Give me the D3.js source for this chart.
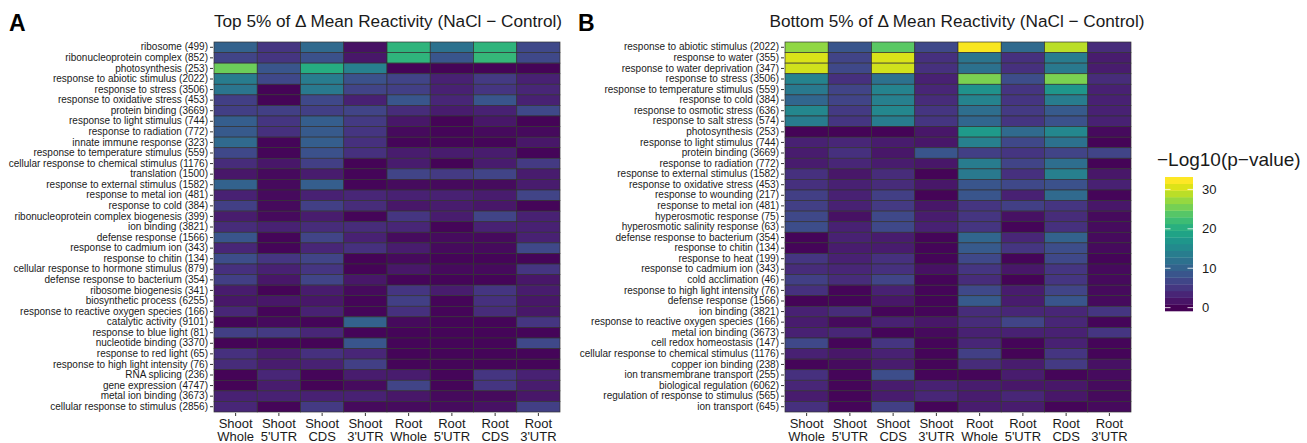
<!DOCTYPE html>
<html>
<head>
<meta charset="utf-8">
<script src="https://cdn.jsdelivr.net/npm/d3@7"></script>
<style>
  body { margin: 0; background: #fff; }
  text { font-family: "Liberation Sans", Arial, sans-serif; }
</style>
</head>
<body>
<script>
// column labels (two lines each)
const columns = ["Shoot\nWhole", "Shoot\n5'UTR", "Shoot\nCDS", "Shoot\n3'UTR",
  "Root\nWhole", "Root\n5'UTR", "Root\nCDS", "Root\n3'UTR"];

// panel A: top 5%
const termsA = ["ribosome (499)", "ribonucleoprotein complex (852)", "photosynthesis (253)",
  "response to abiotic stimulus (2022)", "response to stress (3506)", "response to oxidative stress (453)",
  "protein binding (3669)", "response to light stimulus (744)", "response to radiation (772)",
  "innate immune response (323)", "response to temperature stimulus (559)",
  "cellular response to chemical stimulus (1176)", "translation (1500)",
  "response to external stimulus (1582)", "response to metal ion (481)", "response to cold (384)",
  "ribonucleoprotein complex biogenesis (399)", "ion binding (3821)", "defense response (1566)",
  "response to cadmium ion (343)", "response to chitin (134)", "cellular response to hormone stimulus (879)",
  "defense response to bacterium (354)", "ribosome biogenesis (341)", "biosynthetic process (6255)",
  "response to reactive oxygen species (166)", "catalytic activity (9101)", "response to blue light (81)",
  "nucleotide binding (3370)", "response to red light (65)", "response to high light intensity (76)",
  "RNA splicing (236)", "gene expression (4747)", "metal ion binding (3673)",
  "cellular response to stimulus (2856)"];

// -log10(p) per term, columns in the order above
const valuesA = [
  [10, 5, 11, 1.5, 21, 12, 21, 7],
  [6.5, 5, 8, 2, 21, 8.5, 21.5, 7],
  [25, 8.5, 20, 14, 0.3, 0.3, 0.3, 0.3],
  [13.5, 7, 13.5, 8, 6.5, 3, 5.5, 3],
  [12.5, 0.3, 13, 6.5, 6, 3, 5, 3.5],
  [6, 0.3, 7, 3, 8.5, 3.5, 8.5, 3],
  [6, 6, 6, 6.5, 4, 2.5, 3, 7],
  [9.5, 5, 9.5, 5.5, 2, 0.3, 2, 0.3],
  [9, 4.5, 9, 5, 0.8, 0.5, 0.8, 0.8],
  [11, 0.5, 9.5, 4.5, 0.5, 0.5, 0.5, 2],
  [7, 0.5, 8, 4.5, 2.5, 2.5, 2.5, 0.5],
  [4, 2, 6, 0.3, 2.5, 0.3, 2.5, 5.5],
  [2, 0.8, 2.5, 0.5, 6.5, 5.5, 6.5, 2.5],
  [10, 0.8, 9.5, 0.5, 1, 0.8, 1, 2.5],
  [3, 0.8, 3, 3.5, 3, 3, 2.5, 6.5],
  [6, 0.8, 6, 4, 2, 2.5, 2, 0.5],
  [2.5, 0.8, 2.5, 0.5, 5, 2.5, 6.5, 3],
  [4, 3, 4, 4, 3.5, 0.5, 3, 3],
  [8.5, 0.5, 6.5, 3, 1, 1, 0.8, 3],
  [3.5, 0.5, 3.5, 4.5, 2.5, 0.8, 0.8, 7],
  [7.5, 5, 6.5, 0.3, 0.8, 0.5, 0.5, 0.5],
  [4.5, 3, 5, 0.3, 2, 0.8, 0.8, 5],
  [6, 2, 6.5, 2, 0.5, 0.5, 0.5, 2],
  [2.5, 0.3, 2.5, 0.8, 5, 2.5, 5, 2.5],
  [2, 2, 2, 0.5, 6, 0.5, 4.5, 2],
  [3.5, 0.5, 3, 0.5, 4.5, 0.5, 4, 2],
  [0.5, 0.8, 0.5, 10, 0.8, 0.5, 0.5, 5],
  [6, 5.5, 3.5, 0.5, 0.5, 0.5, 0.5, 0.5],
  [0.3, 0.5, 0.3, 8.5, 0.5, 0.5, 0.5, 7],
  [4.5, 2.5, 4.5, 3.5, 0.5, 0.5, 0.5, 0.5],
  [4, 2.5, 3, 6, 0.5, 0.5, 0.5, 0.5],
  [0.3, 3.5, 0.5, 2.5, 2.5, 0.5, 5, 3],
  [0.3, 2.5, 0.3, 1, 6.5, 0.5, 5, 2.5],
  [3, 3, 3, 3, 2, 0.8, 0.8, 2],
  [3.5, 0.5, 5.5, 0.8, 1, 1, 1.5, 6]
];

// panel B: bottom 5%
const termsB = ["response to abiotic stimulus (2022)", "response to water (355)",
  "response to water deprivation (347)", "response to stress (3506)",
  "response to temperature stimulus (559)", "response to cold (384)", "response to osmotic stress (636)",
  "response to salt stress (574)", "photosynthesis (253)", "response to light stimulus (744)",
  "protein binding (3669)", "response to radiation (772)", "response to external stimulus (1582)",
  "response to oxidative stress (453)", "response to wounding (217)", "response to metal ion (481)",
  "hyperosmotic response (75)", "hyperosmotic salinity response (63)",
  "defense response to bacterium (354)", "response to chitin (134)", "response to heat (199)",
  "response to cadmium ion (343)", "cold acclimation (46)", "response to high light intensity (76)",
  "defense response (1566)", "ion binding (3821)", "response to reactive oxygen species (166)",
  "metal ion binding (3673)", "cell redox homeostasis (147)",
  "cellular response to chemical stimulus (1176)", "copper ion binding (238)",
  "ion transmembrane transport (255)", "biological regulation (6062)",
  "regulation of response to stimulus (565)", "ion transport (645)"];

const valuesB = [
  [27, 8.5, 24, 7, 32, 11, 29, 4],
  [30.5, 6.5, 30.5, 4.5, 12.5, 4.5, 13.5, 2.5],
  [30, 7, 30, 4.5, 12, 4.5, 13, 2.5],
  [14.5, 4.5, 12, 3, 25.8, 7.5, 25.8, 4],
  [13, 6.5, 14.5, 3.5, 16.5, 5, 17, 3],
  [10.5, 6.5, 14, 4, 14.5, 5, 13.5, 3],
  [15, 5.5, 15, 5, 11.5, 5.5, 9, 3],
  [13.5, 5, 13.5, 5, 10.5, 5, 8, 3],
  [0.3, 0.3, 0.3, 2, 17.5, 11, 15, 0.8],
  [3, 3.5, 2.5, 2, 14, 7, 12, 0.3],
  [2.5, 4.5, 2, 8.5, 6, 5, 6.5, 6.5],
  [2.5, 3.5, 2.5, 2, 13.5, 6.5, 11.5, 0.3],
  [4.5, 2, 4, 0.3, 13, 4.5, 14, 2],
  [4.5, 3, 4, 2, 8.5, 7, 8, 3],
  [6, 3, 6, 0.3, 8.5, 3, 11, 0.5],
  [6, 3, 5.5, 2, 5, 6, 5, 2],
  [7, 1.5, 7, 2.5, 5, 1.5, 4, 0.8],
  [7.5, 3, 7, 3, 5, 0.5, 4.5, 1],
  [0.5, 3, 2.5, 0.5, 10.5, 3.5, 10, 0.8],
  [0.5, 2.5, 2.5, 0.5, 9, 5, 7.5, 0.8],
  [5, 3, 4.5, 0.5, 7, 0.5, 7, 0.5],
  [4, 3.5, 4.5, 1.5, 5, 2, 5, 0.8],
  [6, 4, 6.5, 0.5, 4, 0.3, 5, 0.8],
  [4.5, 0.5, 3, 0.5, 7, 2.5, 6.5, 0.8],
  [0.3, 0.5, 2, 0.5, 9, 2.5, 8.5, 0.8],
  [3, 4, 0.5, 0.5, 4, 3.5, 3.5, 5],
  [2.5, 0.8, 3, 2, 4, 6.5, 3.5, 0.5],
  [3, 3.5, 0.5, 0.8, 3, 3, 3, 5],
  [7, 0.5, 5, 0.5, 3.5, 0.5, 3, 0.5],
  [3, 2, 3, 0.5, 6, 0.3, 5, 0.5],
  [0.5, 1, 2.5, 0.5, 4, 2.5, 5.5, 1.5],
  [4.5, 0.5, 7.5, 0.5, 0.5, 2.5, 0.5, 1],
  [3.5, 0.5, 2.5, 3, 2.5, 2, 2, 1],
  [2.5, 0.5, 2.5, 3.5, 2.5, 3.5, 2, 0.8],
  [4.5, 0.5, 6, 0.5, 2.5, 2.5, 0.5, 0.8]
];

const legendTicks = [0, 10, 20, 30];
const maxVal = 32.3;

const W = 1307, H = 443;
const svg = d3.select("body").append("svg").attr("width", W).attr("height", H);

const color = d3.scaleSequential(d3.interpolateViridis).domain([0, maxVal]);

function heatmap(opts) {
  const { terms, values, x0, x1, y0, y1, letter, letterX, title, titleX } = opts;
  const g = svg.append("g");

  const x = d3.scaleBand().domain(columns).range([x0, x1]);
  const y = d3.scaleBand().domain(terms).range([y0, y1]);

  const cells = [];
  terms.forEach((t, i) => columns.forEach((c, j) => cells.push({ t, c, v: values[i][j] })));

  g.selectAll("rect.cell").data(cells).enter().append("rect")
    .attr("class", "cell")
    .attr("x", d => x(d.c))
    .attr("y", d => y(d.t))
    .attr("width", x.bandwidth())
    .attr("height", y.bandwidth())
    .attr("fill", d => color(d.v))
    .attr("stroke", "#333")
    .attr("stroke-width", 0.7);

  // y axis
  const ya = g.append("g").attr("transform", `translate(${x0 - 1},0)`)
    .call(d3.axisLeft(y).tickSize(3).tickPadding(2));
  ya.select(".domain").remove();
  ya.selectAll(".tick line").attr("stroke", "#333");
  ya.selectAll(".tick text").attr("fill", "#1a1a1a").style("font-size", "10px")
    .style("font-family", '"Liberation Sans", Arial, sans-serif');

  // x axis
  const xa = g.append("g").attr("transform", `translate(0,${y1 + 1})`)
    .call(d3.axisBottom(x).tickSize(3).tickFormat(""));
  xa.select(".domain").remove();
  xa.selectAll(".tick line").attr("stroke", "#333");
  xa.selectAll(".tick").each(function (d) {
    const lines = d.split("\n");
    const t = d3.select(this).append("text")
      .attr("text-anchor", "middle")
      .attr("fill", "#1a1a1a")
      .style("font-size", "13px");
    lines.forEach((l, k) => t.append("tspan").attr("x", 0).attr("y", 15 + k * 13).text(l));
  });

  svg.append("text").attr("x", letterX).attr("y", 31)
    .style("font-size", "23px").style("font-weight", "bold").text(letter);
  svg.append("text").attr("x", titleX).attr("y", 27).attr("text-anchor", "middle")
    .style("font-size", "17.2px").attr("fill", "#1a1a1a").text(title);
}

heatmap({ terms: termsA, values: valuesA, x0: 214, x1: 560, y0: 42, y1: 412,
  letter: "A", letterX: 9, title: "Top 5% of \u0394 Mean Reactivity (NaCl \u2212 Control)", titleX: 388 });
heatmap({ terms: termsB, values: valuesB, x0: 785, x1: 1131, y0: 42, y1: 412,
  letter: "B", letterX: 578, title: "Bottom 5% of \u0394 Mean Reactivity (NaCl \u2212 Control)", titleX: 957 });

// legend
const lg = svg.append("g");
const nbin = 20, barTop = 177, barBot = 311, barX = 1165, barW = 28;
const binH = (barBot - barTop) / nbin;
const ly = d3.scaleLinear().domain([0, maxVal]).range([barBot - binH / 2, barTop + binH / 2]);
d3.range(nbin).forEach(i => {
  const v = maxVal * i / (nbin - 1);
  lg.append("rect").attr("x", barX).attr("width", barW)
    .attr("y", barBot - (i + 1) * binH).attr("height", binH + 0.3)
    .attr("fill", color(v));
});
legendTicks.forEach(t => {
  const yy = ly(t);
  lg.append("line").attr("x1", barX).attr("x2", barX + 5.5).attr("y1", yy).attr("y2", yy)
    .attr("stroke", "#fff").attr("stroke-width", 0.8);
  lg.append("line").attr("x1", barX + barW - 5.5).attr("x2", barX + barW).attr("y1", yy).attr("y2", yy)
    .attr("stroke", "#fff").attr("stroke-width", 0.8);
  lg.append("text").attr("x", barX + barW + 9).attr("y", yy + 4.5)
    .style("font-size", "13px").attr("fill", "#1a1a1a").text(t);
});
lg.append("text").attr("x", 1157).attr("y", 166)
  .style("font-size", "19px").attr("fill", "#1a1a1a").text("\u2212Log10(p\u2212value)");
</script>
</body>
</html>
